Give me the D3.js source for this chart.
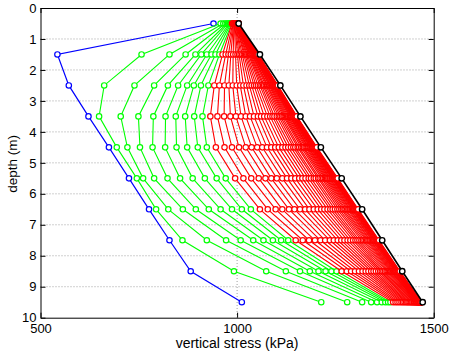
<!DOCTYPE html>
<html><head><meta charset="utf-8">
<script src="https://cdn.jsdelivr.net/npm/d3@7/dist/d3.min.js"></script>
<style>body{margin:0;background:#fff}svg{display:block;background:#fff}</style>
</head><body><svg id="c" width="452" height="356"></svg>
<script>
// depth of each measurement (m)
const depths = [0.5, 1.5, 2.5, 3.5, 4.5, 5.5, 6.5, 7.5, 8.5, 9.5];
// initial profile (blue)
const initialStress = [940, 543, 572, 622, 674, 725, 776, 828, 882, 1012];
// early iterations (green)
const greenStress = [
  [958, 757, 662, 649, 694, 745, 794, 861, 992, 1214],
  [965, 828, 739, 704, 721, 761, 825, 923, 1074, 1280],
  [970, 869, 789, 749, 753, 789, 862, 972, 1124, 1318],
  [974, 894, 824, 787, 785, 823, 895, 1009, 1160, 1341],
  [977, 909, 850, 818, 817, 855, 928, 1041, 1185, 1356],
  [980, 923, 873, 844, 846, 887, 958, 1067, 1207, 1368],
  [982, 935, 890, 868, 873, 918, 987, 1091, 1225, 1377],
  [984, 945, 908, 891, 900, 948, 1012, 1112, 1240, 1384],
  [986, 955, 927, 912, 923, 971, 1035, 1130, 1253, 1390]
];
// later iterations (red)
const redStress = [
  [987, 963, 942, 932, 946, 995, 1058, 1149, 1266, 1397],
  [989, 971, 955, 950, 968, 1016, 1078, 1167, 1279, 1403],
  [990, 978, 968, 967, 987, 1036, 1098, 1183, 1290, 1408],
  [991, 984, 979, 983, 1005, 1055, 1115, 1198, 1300, 1413],
  [992, 990, 989, 997, 1022, 1072, 1132, 1212, 1310, 1418],
  [993, 996, 999, 1010, 1037, 1087, 1146, 1224, 1319, 1422],
  [994, 1001, 1008, 1022, 1051, 1101, 1160, 1236, 1327, 1426],
  [995, 1005, 1016, 1033, 1064, 1115, 1173, 1246, 1334, 1430],
  [996, 1009, 1024, 1043, 1076, 1127, 1184, 1256, 1341, 1433],
  [996, 1013, 1031, 1053, 1087, 1138, 1195, 1265, 1347, 1436],
  [997, 1017, 1037, 1061, 1097, 1148, 1205, 1273, 1353, 1439],
  [997, 1020, 1043, 1069, 1106, 1158, 1214, 1281, 1359, 1442],
  [998, 1023, 1048, 1077, 1115, 1166, 1222, 1288, 1364, 1444],
  [998, 1026, 1053, 1084, 1123, 1174, 1230, 1295, 1368, 1446],
  [999, 1029, 1058, 1090, 1130, 1182, 1237, 1301, 1372, 1449],
  [999, 1031, 1062, 1095, 1137, 1188, 1243, 1306, 1376, 1450],
  [1000, 1033, 1066, 1101, 1143, 1195, 1249, 1311, 1380, 1452],
  [1000, 1035, 1069, 1106, 1148, 1200, 1255, 1316, 1383, 1454],
  [1000, 1037, 1073, 1110, 1154, 1206, 1260, 1320, 1386, 1455],
  [1001, 1039, 1076, 1114, 1158, 1210, 1265, 1324, 1389, 1457],
  [1001, 1040, 1078, 1118, 1163, 1215, 1269, 1328, 1391, 1458],
  [1001, 1042, 1081, 1121, 1167, 1219, 1273, 1331, 1393, 1459],
  [1001, 1043, 1083, 1124, 1170, 1223, 1276, 1334, 1395, 1460],
  [1002, 1044, 1085, 1127, 1174, 1226, 1280, 1337, 1397, 1461],
  [1002, 1045, 1087, 1130, 1177, 1229, 1283, 1339, 1399, 1462],
  [1002, 1046, 1089, 1133, 1180, 1232, 1286, 1342, 1401, 1463],
  [1002, 1047, 1091, 1135, 1182, 1235, 1288, 1344, 1402, 1463],
  [1002, 1048, 1092, 1137, 1185, 1237, 1291, 1346, 1404, 1464],
  [1002, 1049, 1094, 1139, 1187, 1240, 1293, 1348, 1405, 1465],
  [1003, 1050, 1095, 1141, 1189, 1242, 1295, 1349, 1406, 1465],
  [1003, 1050, 1096, 1142, 1191, 1244, 1297, 1351, 1407, 1466],
  [1003, 1051, 1097, 1144, 1193, 1245, 1298, 1352, 1408, 1466],
  [1003, 1051, 1098, 1145, 1194, 1247, 1300, 1354, 1409, 1467],
  [1003, 1052, 1099, 1146, 1196, 1249, 1301, 1355, 1410, 1467],
  [1003, 1052, 1100, 1148, 1197, 1250, 1303, 1356, 1411, 1468],
  [1003, 1053, 1101, 1149, 1199, 1251, 1304, 1357, 1412, 1468],
  [1003, 1053, 1102, 1150, 1200, 1252, 1305, 1358, 1412, 1468],
  [1003, 1054, 1102, 1151, 1201, 1254, 1306, 1359, 1413, 1469],
  [1003, 1054, 1103, 1151, 1202, 1255, 1307, 1360, 1414, 1469],
  [1003, 1054, 1104, 1152, 1203, 1256, 1308, 1361, 1414, 1469]
];
// final profile (black)
const finalStress = [1004, 1058, 1110, 1161, 1213, 1266, 1318, 1369, 1420, 1472];
const xTicks = [500, 1000, 1500];
const yTicks = [0, 1, 2, 3, 4, 5, 6, 7, 8, 9, 10];
const xLabel = "vertical stress (kPa)";
const yLabel = "depth (m)";

const svg = d3.select("#c");
const FONT = "'Liberation Sans', Arial, Helvetica, sans-serif";
const x = d3.scaleLinear().domain([500, 1500]).range([40.5, 433.7]);
const y = d3.scaleLinear().domain([0, 10]).range([8, 317.7]);

// grid
const grid = svg.append("g");
grid.selectAll("line.h").data(yTicks.filter(t => t > 0 && t < 10)).join("line")
  .attr("class", "h")
  .attr("x1", x(500)).attr("x2", x(1500))
  .attr("y1", d => y(d)).attr("y2", d => y(d))
  .attr("stroke", "#a0a0a0").attr("stroke-width", 1).attr("stroke-dasharray", "1,2");
grid.selectAll("line.v").data(xTicks.filter(t => t > 500 && t < 1500)).join("line")
  .attr("class", "v")
  .attr("y1", y(0)).attr("y2", y(10))
  .attr("x1", d => x(d)).attr("x2", d => x(d))
  .attr("stroke", "#a0a0a0").attr("stroke-width", 1).attr("stroke-dasharray", "1,2");

const line = d3.line().x(d => x(d[0])).y(d => y(d[1]));
function drawCurve(vals, color, lw, mlw) {
  const pts = vals.map((v, i) => [v, depths[i]]);
  const g = svg.append("g");
  g.append("path").attr("d", line(pts)).attr("fill", "none")
    .attr("stroke", color).attr("stroke-width", lw);
  g.selectAll("circle").data(pts).join("circle")
    .attr("cx", d => x(d[0])).attr("cy", d => y(d[1])).attr("r", 2.7)
    .attr("fill", "#fff").attr("stroke", color).attr("stroke-width", mlw);
}
drawCurve(initialStress, "#0000ff", 1.2, 1.2);
greenStress.forEach(c => drawCurve(c, "#00ff00", 1.1, 1.2));
redStress.forEach(c => drawCurve(c, "#ff0000", 1.1, 1.2));
drawCurve(finalStress, "#000000", 1.6, 1.4);

// axes
function styleAxis(g) {
  g.attr("font-family", FONT).attr("font-size", 13);
  g.selectAll("text").attr("fill", "#000");
  g.selectAll("line").attr("stroke", "#000");
  g.select(".domain").attr("stroke", "#000");
}
svg.append("g").attr("transform", `translate(${x(500)},0)`)
  .call(d3.axisLeft(y).tickValues(yTicks).tickSize(-5).tickSizeOuter(0).tickPadding(4).tickFormat(d3.format("d")))
  .call(styleAxis);
svg.append("g").attr("transform", `translate(0,${y(10)})`)
  .call(d3.axisBottom(x).tickValues(xTicks).tickSize(-5).tickSizeOuter(0).tickPadding(6).tickFormat(d3.format("d")))
  .call(styleAxis);
svg.append("g").attr("transform", `translate(0,${y(0)})`)
  .call(d3.axisTop(x).tickValues(xTicks).tickSize(-5).tickSizeOuter(0).tickFormat(""))
  .call(styleAxis);
svg.append("g").attr("transform", `translate(${x(1500)},0)`)
  .call(d3.axisRight(y).tickValues(yTicks).tickSize(-5).tickSizeOuter(0).tickFormat(""))
  .call(styleAxis);

svg.append("text").attr("x", (x(500) + x(1500)) / 2).attr("y", 348)
  .attr("text-anchor", "middle").attr("font-family", FONT).attr("font-size", 14)
  .text(xLabel);
svg.append("text").attr("transform", `translate(16.5,${(y(0) + y(10)) / 2 + 1}) rotate(-90)`)
  .attr("text-anchor", "middle").attr("font-family", FONT).attr("font-size", 13.5)
  .text(yLabel);
</script></body></html>
